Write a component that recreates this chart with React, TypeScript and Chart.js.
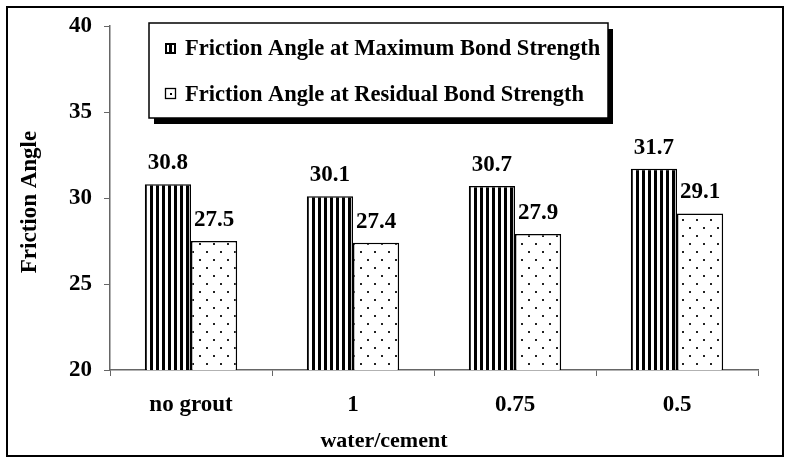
import React, { useEffect, useRef } from "react";
import { Chart, registerables } from "chart.js";

Chart.register(...registerables);

const categories = ["no grout", "1", "0.75", "0.5"];
const maxBond = [30.8, 30.1, 30.7, 31.7];
const residualBond = [27.5, 27.4, 27.9, 29.1];
const seriesLabels = [
  "Friction Angle at Maximum Bond Strength",
  "Friction Angle at Residual Bond Strength",
];
const yMin = 20;
const yMax = 40;
const yStep = 5;
const xTitle = "water/cement";
const yTitle = "Friction Angle";

const FAMILY = '"Liberation Serif", "Times New Roman", serif';

function stripePattern(ctx: CanvasRenderingContext2D) {
  const c = document.createElement("canvas");
  c.width = 6;
  c.height = 6;
  const g = c.getContext("2d")!;
  g.fillStyle = "#fff";
  g.fillRect(0, 0, 6, 6);
  g.fillStyle = "#000";
  g.fillRect(0, 0, 3, 6);
  return ctx.createPattern(c, "repeat")!;
}

function dotPattern(ctx: CanvasRenderingContext2D) {
  const c = document.createElement("canvas");
  c.width = 14;
  c.height = 16;
  const g = c.getContext("2d")!;
  g.fillStyle = "#fff";
  g.fillRect(0, 0, 14, 16);
  g.fillStyle = "#222";
  g.fillRect(3, 3, 2, 2);
  g.fillRect(10, 11, 2, 2);
  return ctx.createPattern(c, "repeat")!;
}

const decorPlugin = {
  id: "decor",
  afterDraw(chart: any) {
    const ctx: CanvasRenderingContext2D = chart.ctx;
    ctx.save();
    // outer frame
    ctx.strokeStyle = "#000";
    ctx.lineWidth = 2;
    ctx.strokeRect(7, 7, 776, 449);

    // data labels
    ctx.fillStyle = "#000";
    ctx.font = `bold 23px ${FAMILY}`;
    ctx.textAlign = "center";
    ctx.textBaseline = "alphabetic";
    chart.data.datasets.forEach((ds: any, i: number) => {
      const meta = chart.getDatasetMeta(i);
      meta.data.forEach((el: any, j: number) => {
        ctx.fillText(Number(ds.data[j]).toFixed(1), el.x, el.y - 15);
      });
    });

    // axis titles
    ctx.font = `bold 22px ${FAMILY}`;
    ctx.textBaseline = "middle";
    ctx.fillText(xTitle, 384, 441);
    ctx.save();
    ctx.translate(30, 202);
    ctx.rotate(-Math.PI / 2);
    ctx.font = `bold 23px ${FAMILY}`;
    ctx.fillText(yTitle, 0, 0);
    ctx.restore();

    // legend box with shadow
    ctx.fillStyle = "#000";
    ctx.fillRect(154, 29, 459, 95);
    ctx.fillStyle = "#fff";
    ctx.fillRect(149, 23, 459, 95);
    ctx.lineWidth = 1.5;
    ctx.strokeStyle = "#000";
    ctx.strokeRect(149, 23, 459, 95);

    // marker 1 (striped)
    ctx.fillStyle = "#000";
    ctx.fillRect(165, 43, 11, 11);
    ctx.fillStyle = "#fff";
    ctx.fillRect(167, 45, 2, 7);
    ctx.fillRect(172, 45, 2, 7);
    // marker 2 (dotted)
    ctx.fillStyle = "#fff";
    ctx.fillRect(165, 88, 11, 11);
    ctx.lineWidth = 1.3;
    ctx.strokeRect(165.5, 88.5, 10, 10);
    ctx.fillStyle = "#000";
    ctx.fillRect(170, 93, 2, 2);

    ctx.fillStyle = "#000";
    ctx.font = `bold 22.5px ${FAMILY}`;
    ctx.textAlign = "left";
    ctx.textBaseline = "middle";
    ctx.fillText(seriesLabels[0], 185, 49);
    ctx.fillText(seriesLabels[1], 185, 95);
    ctx.restore();
  },
};

export default function App() {
  const ref = useRef<HTMLCanvasElement | null>(null);
  useEffect(() => {
    document.body.style.margin = "0";
    const canvas = ref.current!;
    const ctx = canvas.getContext("2d")!;
    const chart = new Chart(ctx, {
      type: "bar",
      data: {
        labels: categories,
        datasets: [
          {
            label: seriesLabels[0],
            data: maxBond,
            backgroundColor: stripePattern(ctx),
            borderColor: "#000",
            borderWidth: 1.5,
            categoryPercentage: 0.57,
            barPercentage: 1,
          },
          {
            label: seriesLabels[1],
            data: residualBond,
            backgroundColor: dotPattern(ctx),
            borderColor: "#000",
            borderWidth: 1.5,
            categoryPercentage: 0.57,
            barPercentage: 1,
          },
        ],
      },
      options: {
        animation: false,
        responsive: false,
        devicePixelRatio: 1,
        layout: { padding: { top: 26, right: 29, left: 0, bottom: 0 } },
        plugins: { legend: { display: false }, tooltip: { enabled: false } },
        scales: {
          x: {
            grid: {
              drawOnChartArea: false,
              drawTicks: true,
              tickLength: 6,
              color: "#666",
              offset: true,
            },
            border: { display: true, color: "#666", width: 1.5 },
            ticks: {
              font: { family: FAMILY, size: 23, weight: "bold" },
              color: "#000",
              padding: 15,
            },
            afterFit(s: any) {
              s.height = 89;
            },
          },
          y: {
            min: yMin,
            max: yMax,
            ticks: {
              stepSize: yStep,
              font: { family: FAMILY, size: 23, weight: "bold" },
              color: "#000",
              padding: 12,
            },
            grid: { drawOnChartArea: false, tickLength: 6, color: "#666" },
            border: { display: true, color: "#666", width: 1.5 },
            afterFit(s: any) {
              s.width = 110;
            },
          },
        },
      },
      plugins: [decorPlugin],
    } as any);
    return () => chart.destroy();
  }, []);
  return (
    <div style={{ width: 787, height: 459, background: "#fff" }}>
      <canvas ref={ref} width={787} height={459} style={{ display: "block" }} />
    </div>
  );
}
